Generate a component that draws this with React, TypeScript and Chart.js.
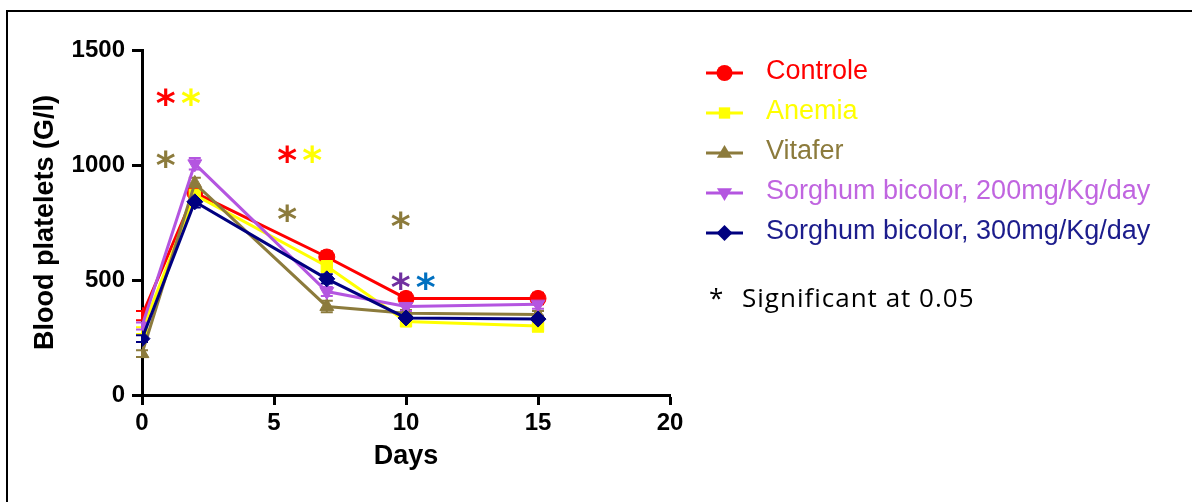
import React, { useEffect, useRef } from 'react';
import { Chart, registerables } from 'chart.js';

Chart.register(...registerables);

// ---- data ----
const days = [0, 2, 7, 10, 15];
const seriesNames = [
  'Controle',
  'Anemia',
  'Vitafer',
  'Sorghum bicolor, 200mg/Kg/day',
  'Sorghum bicolor, 300mg/Kg/day',
];
const controle = [345, 880, 600, 420, 420];
const anemia = [280, 870, 560, 320, 300];
const vitafer = [180, 920, 385, 355, 350];
const sorghum200 = [300, 1005, 450, 385, 395];
const sorghum300 = [245, 840, 505, 335, 330];

const controleErr = [20, 30, 25, 25, 25];
const anemiaErr = [15, 30, 25, 20, 25];
const vitaferErr = [15, 25, 25, 15, 15];
const sorghum200Err = [15, 25, 20, 20, 20];
const sorghum300Err = [15, 25, 20, 15, 15];

const xTicks = [0, 5, 10, 15, 20];
const yTicks = [0, 500, 1000, 1500];

// significance asterisks
const sigX = [0.9, 1.85, 0.9, 5.5, 6.45, 5.5, 9.8, 9.8, 10.75];
const sigY = [1295, 1295, 1025, 1050, 1050, 790, 760, 495, 495];
const sigColors = ['#ff0000', '#ffff00', '#8c7b3c', '#ff0000', '#ffff00', '#8c7b3c', '#8c7b3c', '#7030a0', '#0070c0'];

const seriesColors = ['#ff0000', '#ffff00', '#8c7b3c', '#b455e0', '#000080'];
const textColors = ['#ff0000', '#ffff00', '#8c7b3c', '#c065e0', '#1c1c8c'];
const pointStyles = ['circle', 'rect', 'triangle', 'triangle', 'rectRot'];
const pointRotations = [0, 0, 0, 180, 0];
const significantText = 'Significant at 0.05';

const seriesValues = [controle, anemia, vitafer, sorghum200, sorghum300];
const seriesErrors = [controleErr, anemiaErr, vitaferErr, sorghum200Err, sorghum300Err];

function drawMarker(ctx: CanvasRenderingContext2D, style: string, rot: number, x: number, y: number, r: number, color: string) {
  ctx.save();
  ctx.fillStyle = color;
  ctx.beginPath();
  if (style === 'circle') {
    ctx.arc(x, y, r, 0, Math.PI * 2);
  } else if (style === 'rect') {
    const s = r * Math.SQRT1_2;
    ctx.rect(x - s, y - s, 2 * s, 2 * s);
  } else if (style === 'rectRot') {
    ctx.moveTo(x, y - r);
    ctx.lineTo(x + r, y);
    ctx.lineTo(x, y + r);
    ctx.lineTo(x - r, y);
    ctx.closePath();
  } else if (style === 'triangle') {
    const d = rot === 180 ? -1 : 1;
    ctx.moveTo(x, y - d * r);
    ctx.lineTo(x + r * 0.95, y + d * r * 0.6);
    ctx.lineTo(x - r * 0.95, y + d * r * 0.6);
    ctx.closePath();
  }
  ctx.fill();
  ctx.restore();
}

const framePlugin = {
  id: 'frameBox',
  beforeDraw(chart: any) {
    const ctx = chart.ctx as CanvasRenderingContext2D;
    ctx.save();
    ctx.fillStyle = '#ffffff';
    ctx.fillRect(0, 0, chart.width, chart.height);
    ctx.strokeStyle = '#000000';
    ctx.lineWidth = 2;
    ctx.beginPath();
    ctx.moveTo(7, chart.height + 5);
    ctx.lineTo(7, 11);
    ctx.lineTo(chart.width + 5, 11);
    ctx.stroke();
    ctx.restore();
  },
};

const errorBarPlugin = {
  id: 'errorBars',
  beforeDatasetsDraw(chart: any) {
    const ctx = chart.ctx as CanvasRenderingContext2D;
    const xs = chart.scales.x;
    const ys = chart.scales.y;
    ctx.save();
    ctx.lineWidth = 2;
    seriesValues.forEach((vals, si) => {
      ctx.strokeStyle = seriesColors[si];
      vals.forEach((v, i) => {
        const px = xs.getPixelForValue(days[i]);
        const top = ys.getPixelForValue(v + seriesErrors[si][i]);
        const bot = ys.getPixelForValue(v - seriesErrors[si][i]);
        ctx.beginPath();
        ctx.moveTo(px, top);
        ctx.lineTo(px, bot);
        ctx.moveTo(px - 6, top);
        ctx.lineTo(px + 6, top);
        ctx.moveTo(px - 6, bot);
        ctx.lineTo(px + 6, bot);
        ctx.stroke();
      });
    });
    ctx.restore();
  },
};

const annotationPlugin = {
  id: 'sigAndLegend',
  afterDraw(chart: any) {
    const ctx = chart.ctx as CanvasRenderingContext2D;
    const xs = chart.scales.x;
    const ys = chart.scales.y;
    ctx.save();
    // significance asterisks
    ctx.font = 'bold 38px "DejaVu Sans"';
    ctx.textAlign = 'center';
    ctx.textBaseline = 'alphabetic';
    sigX.forEach((sx, i) => {
      const px = xs.getPixelForValue(sx);
      const py = ys.getPixelForValue(sigY[i]);
      const m = ctx.measureText('*');
      const asc = m.actualBoundingBoxAscent;
      const desc = m.actualBoundingBoxDescent;
      ctx.fillStyle = sigColors[i];
      ctx.fillText('*', px, py + (asc - desc) / 2);
    });

    // legend
    const lx0 = 706;
    const lx1 = 743;
    const tx = 766;
    const rowY0 = chart.chartArea.top + 23;
    const rowGap = 40;
    seriesNames.forEach((name, i) => {
      const y = rowY0 + i * rowGap;
      ctx.strokeStyle = seriesColors[i];
      ctx.lineWidth = 3;
      ctx.beginPath();
      ctx.moveTo(lx0, y);
      ctx.lineTo(lx1, y);
      ctx.stroke();
      drawMarker(ctx, pointStyles[i], pointRotations[i], (lx0 + lx1) / 2, y, 8, seriesColors[i]);
      ctx.font = '27px "Liberation Sans"';
      ctx.textAlign = 'left';
      ctx.textBaseline = 'middle';
      ctx.fillStyle = textColors[i];
      ctx.fillText(name, tx, y - 1);
    });

    // significance note
    const sy = rowY0 + 5 * rowGap + 34;
    ctx.fillStyle = '#000000';
    ctx.font = '26px "Open Sans"';
    ctx.textAlign = 'left';
    ctx.textBaseline = 'alphabetic';
    ctx.fillText('*', 709, sy);
    try { (ctx as any).letterSpacing = '1px'; } catch (e) { /* ignore */ }
    ctx.fillText(significantText, 742, sy);
    ctx.restore();
  },
};

export default function App() {
  const canvasRef = useRef<HTMLCanvasElement | null>(null);

  useEffect(() => {
    if (!canvasRef.current) return;
    const datasets = seriesNames.map((name, i) => ({
      label: name,
      data: days.map((d, j) => ({ x: d, y: seriesValues[i][j] })),
      borderColor: seriesColors[i],
      backgroundColor: seriesColors[i],
      pointBackgroundColor: seriesColors[i],
      pointBorderColor: seriesColors[i],
      pointStyle: pointStyles[i] as any,
      rotation: pointRotations[i],
      pointRadius: 8,
      pointBorderWidth: 1,
      borderWidth: 3,
      tension: 0,
      fill: false,
      order: seriesNames.length - 1 - i,
    }));

    const tickFont = { family: '"Liberation Sans", Arial, sans-serif', size: 24, weight: 'bold' as const };
    const titleFont = { family: '"Liberation Sans", Arial, sans-serif', size: 27, weight: 'bold' as const };

    const chart = new Chart(canvasRef.current, {
      type: 'line',
      data: { datasets },
      options: {
        animation: false,
        responsive: true,
        maintainAspectRatio: false,
        layout: { padding: { left: 20, right: 522, top: 50, bottom: 0 } },
        plugins: {
          legend: { display: false },
          tooltip: { enabled: false },
        },
        scales: {
          x: {
            type: 'linear',
            min: 0,
            max: 20,
            afterBuildTicks: (s: any) => {
              s.ticks = xTicks.map((v) => ({ value: v }));
            },
            afterFit: (s: any) => {
              s.height = 107;
            },
            grid: {
              display: true,
              drawOnChartArea: false,
              drawTicks: true,
              tickLength: 10,
              tickWidth: 3,
              tickColor: '#000000',
            },
            border: { display: true, color: '#000000', width: 3 },
            ticks: { color: '#000000', font: tickFont, padding: 4, maxRotation: 0, callback: (v: any) => String(v) },
            title: {
              display: true,
              text: 'Days',
              color: '#000000',
              font: titleFont,
              padding: { top: 0, bottom: 29 },
            },
          },
          y: {
            type: 'linear',
            min: 0,
            max: 1500,
            afterBuildTicks: (s: any) => {
              s.ticks = yTicks.map((v) => ({ value: v }));
            },
            afterFit: (s: any) => {
              s.width = 122;
            },
            grid: {
              display: true,
              drawOnChartArea: false,
              drawTicks: true,
              tickLength: 10,
              tickWidth: 3,
              tickColor: '#000000',
            },
            border: { display: true, color: '#000000', width: 3 },
            ticks: { color: '#000000', font: tickFont, padding: 7, callback: (v: any) => String(v) },
            title: {
              display: true,
              text: 'Blood platelets (G/l)',
              color: '#000000',
              font: titleFont,
              padding: { top: 9, bottom: 0 },
            },
          },
        },
      },
      plugins: [framePlugin, errorBarPlugin, annotationPlugin],
    });
    return () => chart.destroy();
  }, []);

  return (
    <div style={{ position: 'fixed', left: 0, top: 0, width: 1192, height: 502 }}>
      <canvas ref={canvasRef} />
    </div>
  );
}
